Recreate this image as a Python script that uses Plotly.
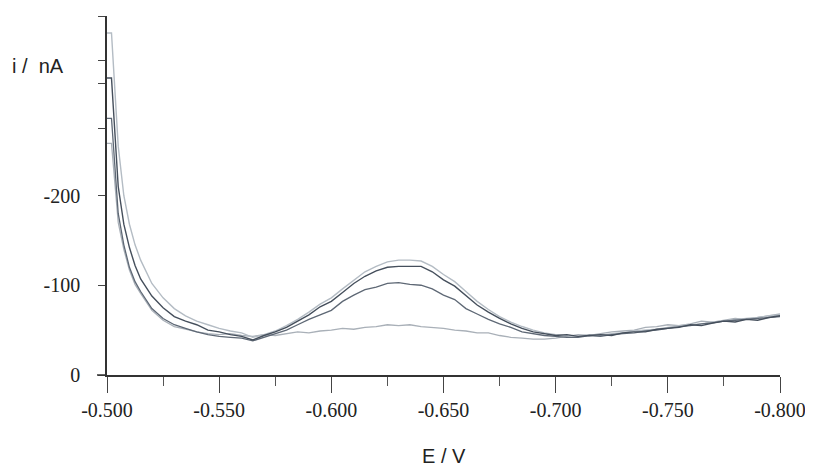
import plotly.graph_objects as go

# Potential (V)
E = [-0.500, -0.502, -0.505, -0.5075, -0.510, -0.5125, -0.515, -0.5175, -0.520,
     -0.525, -0.530, -0.535, -0.540, -0.545, -0.550, -0.555, -0.560, -0.565, -0.570,
     -0.575, -0.580, -0.585, -0.590, -0.595, -0.600, -0.605, -0.610, -0.615, -0.620,
     -0.625, -0.630, -0.635, -0.640, -0.645, -0.650, -0.655, -0.660, -0.665, -0.670,
     -0.675, -0.680, -0.685, -0.690, -0.695, -0.700, -0.705, -0.710, -0.715, -0.720,
     -0.725, -0.730, -0.735, -0.740, -0.745, -0.750, -0.755, -0.760, -0.765, -0.770,
     -0.775, -0.780, -0.785, -0.790, -0.795, -0.800]

# Currents (nA)
i_high = [-381, -381, -255, -200, -168, -145, -128, -114, -102,
          -86, -74, -66, -60, -56, -52, -49, -47, -42, -45,
          -49, -55, -62, -70, -79, -86, -96, -106, -115, -121,
          -126, -128, -128, -127, -121, -112, -104, -93, -82, -73,
          -65, -59, -54, -50, -47, -45, -44, -43, -45, -44,
          -46, -47, -49, -50, -51, -53, -55, -56, -57, -59,
          -60, -62, -63, -64, -66, -67]

i_dark = [-331, -331, -210, -168, -142, -122, -107, -97, -88,
          -75, -65, -60, -56, -50, -48, -45, -43, -39, -44,
          -48, -53, -60, -67, -76, -82, -92, -102, -110, -116,
          -120, -121, -121, -121, -115, -106, -99, -88, -78, -70,
          -63, -57, -52, -48, -46, -44, -45, -43, -44, -45,
          -44, -47, -48, -48, -51, -52, -53, -56, -55, -58,
          -60, -59, -62, -61, -64, -66]

i_mid = [-286, -286, -180, -145, -120, -104, -93, -83, -74,
         -63, -56, -52, -48, -45, -43, -42, -41, -38, -42,
         -46, -50, -56, -62, -67, -72, -82, -89, -95, -98,
         -102, -103, -101, -100, -96, -89, -84, -74, -68, -62,
         -57, -53, -48, -46, -44, -43, -42, -42, -44, -43,
         -45, -46, -47, -49, -50, -52, -54, -55, -57, -58,
         -60, -61, -62, -63, -64, -65]

i_base = [-258, -258, -170, -140, -117, -101, -91, -81, -72,
          -61, -54, -51, -48, -46, -45, -46, -44, -43, -45,
          -44, -46, -48, -47, -49, -50, -52, -51, -53, -54,
          -56, -55, -56, -54, -53, -52, -50, -49, -47, -47,
          -44, -42, -41, -40, -40, -41, -43, -45, -44, -46,
          -48, -49, -50, -53, -54, -56, -55, -57, -60, -59,
          -61, -63, -62, -64, -66, -68]

x_major = [-0.500, -0.550, -0.600, -0.650, -0.700, -0.750, -0.800]
x_minor = [-0.525, -0.575, -0.625, -0.675, -0.725, -0.775]
x_labels = ["-0.500", "-0.550", "-0.600", "-0.650", "-0.700", "-0.750", "-0.800"]

y_ticks = [0, -100, -200, -275, -325, -350, -400]
y_labels = ["0", "-100", "-200", "", "", "", ""]

series = [
    (i_base, "#a9b0b8", 1.3),
    (i_high, "#b4bcc4", 1.4),
    (i_mid, "#5e6875", 1.3),
    (i_dark, "#454f5c", 1.4),
]

fig = go.Figure()
for ys, col, w in series:
    fig.add_trace(go.Scatter(x=E, y=ys, mode="lines",
                             line=dict(color=col, width=w), showlegend=False))

# page body adds an 8 px offset; compensate so plot sits at page px 107..780, 16..375
OFF = 8
FW, FH = 813 - OFF, 467 - OFF
L, T = 107 - OFF, 16 - OFF
PW, PH = 673, 359
R, B = FW - L - PW, FH - T - PH


def px(xp):
    return (xp - 107) / PW


def py(yp):
    return (375 - yp) / PH


fig.update_layout(
    width=FW, height=FH,
    margin=dict(l=L, r=R, t=T, b=B, autoexpand=False),
    paper_bgcolor="white", plot_bgcolor="white",
    font=dict(family="Liberation Serif", size=20, color="#222"),
    xaxis=dict(range=[-0.5, -0.8], showgrid=False, zeroline=False, automargin=False,
               showline=True, linecolor="#333", linewidth=1.5,
               tickmode="array", tickvals=x_major, ticktext=x_labels,
               ticks="outside", ticklen=16, tickwidth=1.2, tickcolor="#444",
               minor=dict(tickmode="array", tickvals=x_minor, ticks="outside",
                          ticklen=9, tickwidth=1.2, tickcolor="#555"),
               tickfont=dict(family="Liberation Serif", size=20, color="#222")),
    yaxis=dict(range=[0, -400], showgrid=False, zeroline=False, automargin=False,
               showline=True, linecolor="#333", linewidth=1.5,
               tickmode="array", tickvals=y_ticks, ticktext=y_labels,
               ticks="outside", ticklen=7, tickwidth=1.2, tickcolor="#444",
               ticklabelstandoff=14,
               tickfont=dict(family="Liberation Serif", size=20, color="#222")),
    shapes=[dict(type="line", xref="paper", yref="paper", x0=px(97), x1=0,
                 y0=0, y1=0, line=dict(color="#333", width=1.5))],
    annotations=[
        dict(text="i /  nA", xref="paper", yref="paper",
             x=px(38), y=py(66), xanchor="center", yanchor="middle",
             showarrow=False,
             font=dict(family="Liberation Sans", size=20, color="#222")),
        dict(text="E / V", xref="paper", yref="paper",
             x=px(444), y=py(456), xanchor="center", yanchor="middle",
             showarrow=False,
             font=dict(family="Liberation Sans", size=20, color="#222")),
    ],
)

fig.write_html("out.html")
